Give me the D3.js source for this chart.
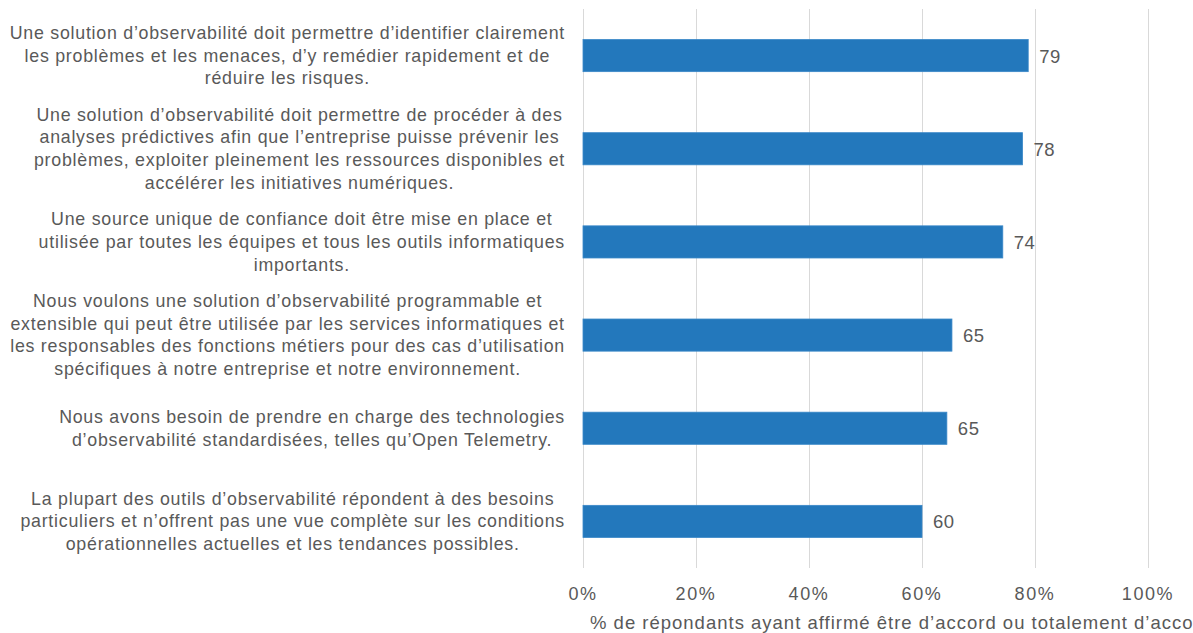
<!DOCTYPE html>
<html>
<head>
<meta charset="utf-8">
<script src="https://cdn.jsdelivr.net/npm/d3@7"></script>
<style>
  html, body { margin: 0; padding: 0; background: #fff; }
  svg { display: block; font-family: "Liberation Sans", Arial, sans-serif; }
</style>
</head>
<body>
<svg id="chart" width="1193" height="633"></svg>
<script>
const categories = [
  ["Une solution d’observabilité doit permettre d’identifier clairement",
   "les problèmes et les menaces, d’y remédier rapidement et de",
   "réduire les risques."],
  ["Une solution d’observabilité doit permettre de procéder à des",
   "analyses prédictives afin que l’entreprise puisse prévenir les",
   "problèmes, exploiter pleinement les ressources disponibles et",
   "accélérer les initiatives numériques."],
  ["Une source unique de confiance doit être mise en place et",
   "utilisée par toutes les équipes et tous les outils informatiques",
   "importants."],
  ["Nous voulons une solution d’observabilité programmable et",
   "extensible qui peut être utilisée par les services informatiques et",
   "les responsables des fonctions métiers pour des cas d’utilisation",
   "spécifiques à notre entreprise et notre environnement."],
  ["Nous avons besoin de prendre en charge des technologies",
   "d’observabilité standardisées, telles qu’Open Telemetry."],
  ["La plupart des outils d’observabilité répondent à des besoins",
   "particuliers et n’offrent pas une vue complète sur les conditions",
   "opérationnelles actuelles et les tendances possibles."]
];
const values = [78.8, 77.8, 74.3, 65.3, 64.4, 60.0];
const valueLabels = ["79", "78", "74", "65", "65", "60"];
const xTicks = [0, 20, 40, 60, 80, 100];
const xTitle = "% de répondants ayant affirmé être d’accord ou totalement d’accord";

const svg = d3.select("#chart");
const plot = { left: 583, right: 1148, top: 9, bottom: 568 };

const x = d3.scaleLinear().domain([0, 100]).range([plot.left, plot.right]);
const y = d3.scaleBand().domain(d3.range(categories.length))
  .range([plot.top, plot.bottom]).paddingInner(0.655).paddingOuter(0.3275);

// gridlines
svg.append("g").selectAll("line").data(xTicks).join("line")
  .attr("x1", d => x(d) + 0.5).attr("x2", d => x(d) + 0.5)
  .attr("y1", plot.top).attr("y2", plot.bottom)
  .attr("stroke", "#d9d9d9").attr("stroke-width", 1);

// x tick labels
svg.append("g").selectAll("text").data(xTicks).join("text")
  .attr("x", d => x(d)).attr("y", 600)
  .attr("text-anchor", "middle")
  .attr("font-size", 18).attr("letter-spacing", 1.6).attr("fill", "#595959")
  .text(d => d + "%");

// x title
svg.append("text")
  .attr("x", 590).attr("y", 629)
  .attr("font-size", 18.5).attr("letter-spacing", 1).attr("fill", "#595959")
  .text(xTitle);

// bars
svg.append("g").selectAll("rect").data(values).join("rect")
  .attr("x", x(0)).attr("y", (d, i) => y(i))
  .attr("width", d => x(d) - x(0)).attr("height", y.bandwidth())
  .attr("fill", "#2378bc").attr("stroke", "#3a88c8").attr("stroke-width", 0.8);

// value labels
svg.append("g").selectAll("text").data(values).join("text")
  .attr("x", d => x(d) + 11).attr("y", (d, i) => y(i) + y.bandwidth() / 2 + 7)
  .attr("font-size", 18.5).attr("letter-spacing", 0.5).attr("fill", "#595959")
  .text((d, i) => valueLabels[i]);

// category labels (centered blocks, right-aligned box)
const lineH = 22.7;
const rightEdge = 565;
const catG = svg.append("g");
categories.forEach((lines, i) => {
  const cy = y(i) + y.bandwidth() / 2;
  const g = catG.append("g");
  const texts = lines.map((ln, j) =>
    g.append("text")
      .attr("font-size", 17.8).attr("letter-spacing", 0.75).attr("fill", "#595959")
      .attr("text-anchor", "middle")
      .attr("y", cy + (j - (lines.length - 1) / 2) * lineH + 6)
      .text(ln));
  const w = d3.max(texts, t => t.node().getComputedTextLength());
  texts.forEach(t => t.attr("x", rightEdge - w / 2));
});
</script>
</body>
</html>
